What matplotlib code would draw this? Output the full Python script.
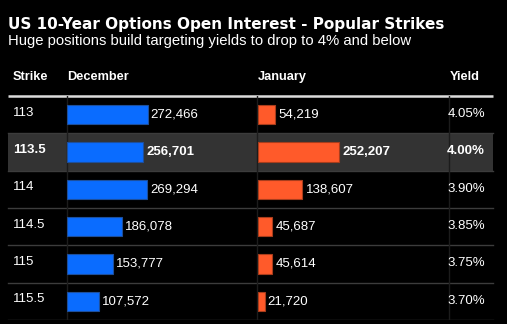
import matplotlib
matplotlib.use("Agg")
import matplotlib.pyplot as plt
from matplotlib.patches import Rectangle

# ---------------- data ----------------
strikes = ["113", "113.5", "114", "114.5", "115", "115.5"]
december = [272466, 256701, 269294, 186078, 153777, 107572]
january = [54219, 252207, 138607, 45687, 45614, 21720]
yields = ["4.05%", "4.00%", "3.90%", "3.85%", "3.75%", "3.70%"]
highlight_row = 1

title = "US 10-Year Options Open Interest - Popular Strikes"
subtitle = "Huge positions build targeting yields to drop to 4% and below"
headers = ["Strike", "December", "January", "Yield"]

# ---------------- style ----------------
BG = "black"
BLUE = "#0a6cff"
BLUE_EDGE = "#1d4f9c"
ORANGE = "#ff5a2a"
ORANGE_EDGE = "#a83d1c"
ROW_HL = "#333333"
ROW_LINE = "#3c3c3c"
COL_LINE = "#1c1c1c"
BODY_FONT = "Liberation Sans"

W, H = 507, 324
fig = plt.figure(figsize=(W / 100, H / 100), dpi=100, facecolor=BG)

# pixel-space axes for title and header
bg = fig.add_axes([0, 0, 1, 1])
bg.set_xlim(0, W)
bg.set_ylim(H, 0)
bg.axis("off")

bg.text(8, 29, title, color="white", fontsize=11.0, fontweight="bold",
        family="DejaVu Sans", va="baseline", ha="left")
bg.text(8, 45, subtitle, color="white", fontsize=10.7,
        family=BODY_FONT, va="baseline", ha="left")

head_x = [13, 67, 258, 450]
for x, h in zip(head_x, headers):
    bg.text(x, 80, h, color="white", fontsize=9.2, fontweight="bold",
            family=BODY_FONT, va="baseline", ha="left")
bg.plot([8, 493], [95.5, 95.5], color="#dcdcdc", lw=1.8, solid_capstyle="butt")

# table body area
top, bottom = 96, 320
n = len(strikes)
rect = [0, (H - bottom) / H, 1, (bottom - top) / H]

tab = fig.add_axes(rect)
tab.set_xlim(0, W)
tab.set_ylim(n - 0.5, -0.5)
tab.axis("off")
tab.add_patch(Rectangle((8, highlight_row - 0.5), 485, 1, color=ROW_HL, lw=0, zorder=0))
for i in range(n):
    tab.plot([8, 493], [i + 0.5, i + 0.5], color=ROW_LINE, lw=1, zorder=1)
for x in [66.5, 257, 449]:
    tab.plot([x, x], [-0.5, n - 0.5], color=COL_LINE, lw=1, zorder=1)

for i, (s, y) in enumerate(zip(strikes, yields)):
    fw = "bold" if i == highlight_row else "normal"
    tab.text(13, i - 0.05, s, color="white", fontsize=9.5, family=BODY_FONT,
             fontweight=fw, va="center", ha="left")
    tab.text(485, i - 0.02, y, color="white", fontsize=9.5, family=BODY_FONT,
             fontweight=fw, va="center", ha="right")


def bar_column(x0, x1, values, color, edge, max_px):
    ax = fig.add_axes([x0 / W, rect[1], (x1 - x0) / W, rect[3]])
    ax.set_facecolor("none")
    ax.set_xlim(0, max(values) * (x1 - x0) / max_px)
    ax.set_ylim(n - 0.5, -0.5)
    ax.axis("off")
    ax.barh(range(n), values, height=0.52, color=color, edgecolor=edge, lw=0.8)
    for i, v in enumerate(values):
        fw = "bold" if i == highlight_row else "normal"
        ax.annotate(f"{v:,}", (v, i), xytext=(2.2, 0), textcoords="offset points",
                    color="white", fontsize=9.5, family=BODY_FONT, fontweight=fw,
                    va="center", ha="left")
    return ax


bar_column(67, 257, december, BLUE, BLUE_EDGE, 80.7)
bar_column(257.5, 449, january, ORANGE, ORANGE_EDGE, 81.7)

fig.savefig("out.png", dpi=100, facecolor=BG)
